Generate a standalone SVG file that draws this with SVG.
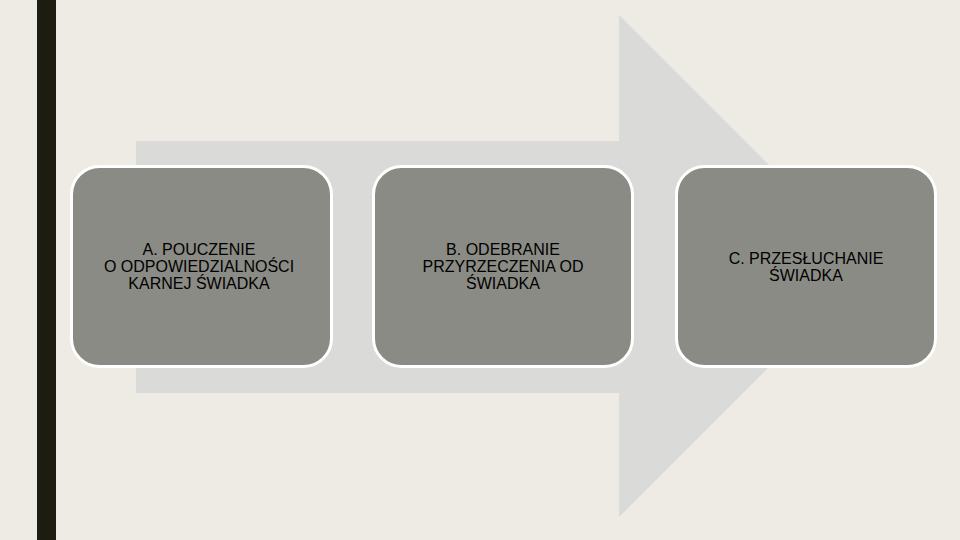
<svg xmlns="http://www.w3.org/2000/svg" width="960" height="540" viewBox="0 0 960 540">
<style>
.box{fill:#8b8b85;stroke:#ffffff;stroke-width:3}
.lbl{font-family:"Liberation Sans",Arial,sans-serif;font-size:16px;fill:#000000;text-anchor:middle}
</style>
<rect x="0" y="0" width="960" height="540" fill="#eeebe4"/>
<rect x="37" y="0" width="19" height="540" fill="#1c1c10"/>
<g id="arrow">
<path d="M136,141 H619 V15 L870,266 L619,517 V393 H136 Z" fill="#dadad8"/>
</g>
<g id="connectors"></g>
<g id="nodeA">
<rect class="box" x="71.5" y="166.5" width="260" height="200" rx="28" ry="28"/>
<text class="lbl" x="199" y="255">A. POUCZENIE</text>
<text class="lbl" x="199" y="272">O ODPOWIEDZIALNOŚCI</text>
<text class="lbl" x="199" y="289">KARNEJ ŚWIADKA</text>
</g>
<g id="nodeB">
<rect class="box" x="373.5" y="166.5" width="259" height="200" rx="28" ry="28"/>
<text class="lbl" x="503" y="255">B. ODEBRANIE</text>
<text class="lbl" x="503" y="272">PRZYRZECZENIA OD</text>
<text class="lbl" x="503" y="289">ŚWIADKA</text>
</g>
<g id="nodeC">
<rect class="box" x="676.5" y="166.5" width="259" height="200" rx="28" ry="28"/>
<text class="lbl" x="806" y="264">C. PRZESŁUCHANIE</text>
<text class="lbl" x="806" y="281">ŚWIADKA</text>
</g>
</svg>
